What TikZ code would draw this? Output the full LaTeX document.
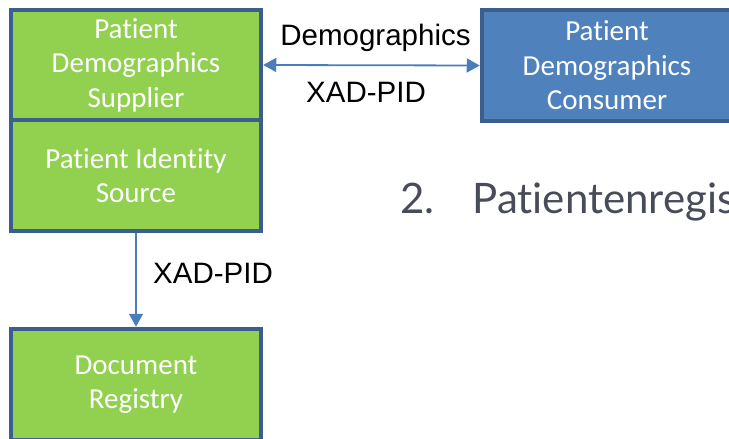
\documentclass[tikz,border=0pt]{standalone}
\usepackage{fontspec}
\setmainfont{Carlito}[Ligatures={NoCommon}]
\newfontfamily\arialf{Liberation Sans}
\newfontfamily\latof{Lato}[Ligatures={NoCommon}]
\usetikzlibrary{arrows.meta}
\definecolor{boxgreen}{HTML}{92D050}
\definecolor{boxblue}{HTML}{4F81BD}
\definecolor{boxborder}{HTML}{3C5E8C}
\definecolor{arrowblue}{HTML}{4A7EBB}
\definecolor{titlegray}{HTML}{484C59}
\begin{document}
\begin{tikzpicture}[x=1pt,y=-1pt,
  actor/.style={draw=boxborder, line width=4.5pt, fill=#1, minimum width=250pt,
    text=white, font=\fontsize{29}{34.5}\selectfont, align=center, inner sep=0pt},
  tip/.tip={Triangle[length=13pt,width=14pt]},
  conn/.style={draw=arrowblue, line width=1.8pt},
  lbl/.style={font=\arialf\fontsize{29.5}{34}\selectfont, text=black, inner sep=0pt}
]
\useasboundingbox (0,0) rectangle (729,439);
\clip (0,0) rectangle (729,439);

\node[actor=boxgreen, minimum height=110pt] (pds) at (136,65)
  {Patient\\Demographics\\Supplier};
\node[actor=boxgreen, minimum height=111pt] (pis) at (136,175.5)
  {Patient Identity\\Source};
\node[actor=boxblue, minimum height=111pt] (pdc) at (607,65.5)
  {Patient\\Demographics\\Consumer};
\node[actor=boxgreen, minimum height=111pt] (reg) at (136,384.5)
  {Document\\Registry};

\draw[conn, tip-tip] (pds.east) -- (pdc.west);
\draw[conn, -tip] (pis.south) -- (reg.north);

\node[lbl] (l1) at (375.5,38) {Demographics};
\node[lbl] (l2) at (366,92) {XAD-PID};
\node[lbl] (l3) at (213,273) {XAD-PID};

\node[anchor=base west, inner sep=0pt, text=titlegray,
  font=\latof\fontsize{42}{50}\selectfont] (title) at (400,213)
  {2.\hspace*{38pt}Patientenregister};
\end{tikzpicture}
\end{document}
